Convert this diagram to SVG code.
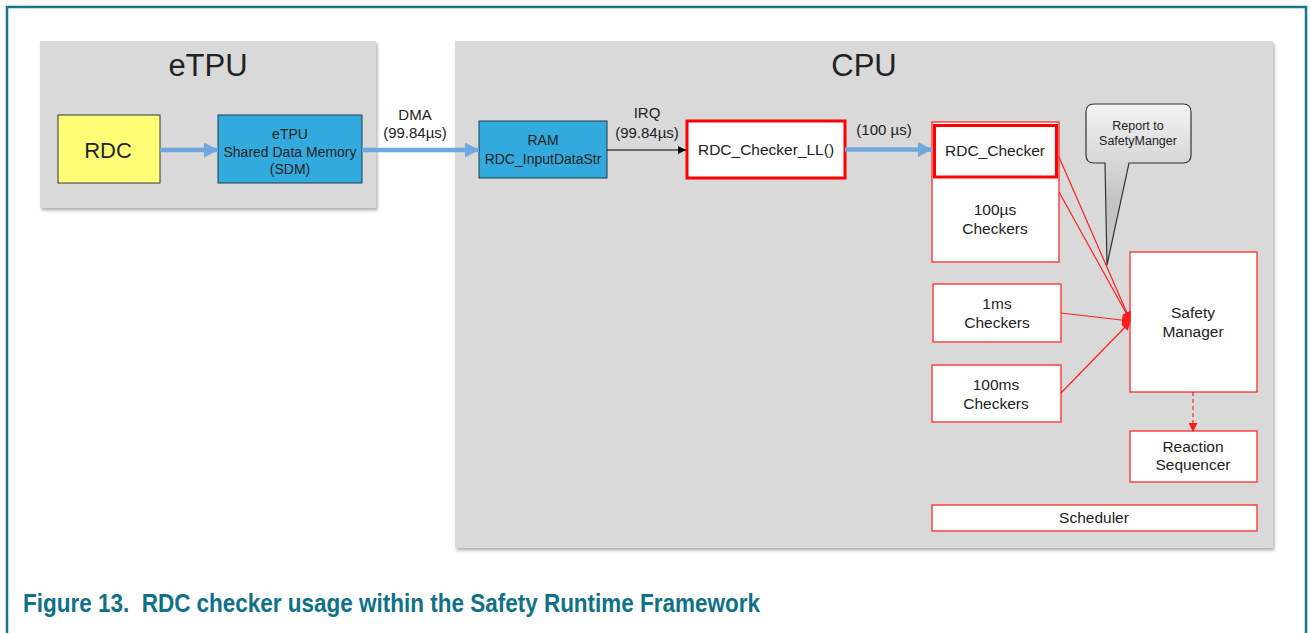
<svg xmlns="http://www.w3.org/2000/svg" width="1310" height="633" viewBox="0 0 1310 633">
<style>
text{font-family:"Liberation Sans",Arial,sans-serif;fill:#222;text-anchor:middle}
.grp{fill:#d9d9d9}
.rbox{fill:#fff;stroke:#ff2a2a;stroke-width:1.3}
.thick{fill:#fff;stroke:#ff0000;stroke-width:3}
.blue{stroke:#6fa8dc;stroke-width:4.5;fill:none}
.red{stroke:#ff2020;stroke-width:1.2;fill:none}
.t15{font-size:15.5px}
.t14{font-size:14px}
</style>
<defs>
<filter id="sh" x="-5%" y="-5%" width="110%" height="112%">
<feDropShadow dx="1.5" dy="2.5" stdDeviation="1.5" flood-color="#000" flood-opacity="0.3"/>
</filter>
<marker id="ab" viewBox="0 0 14 15" refX="14" refY="7.5" markerWidth="14" markerHeight="15" markerUnits="userSpaceOnUse" orient="auto">
<path d="M0,0 L14,7.5 L0,15 Z" fill="#6fa8dc"/>
</marker>
<marker id="ak" viewBox="0 0 8 8" refX="8" refY="4" markerWidth="8" markerHeight="8" markerUnits="userSpaceOnUse" orient="auto">
<path d="M0,0 L8,4 L0,8 Z" fill="#000"/>
</marker>
<marker id="ar" viewBox="0 0 9 9" refX="8" refY="4.5" markerWidth="9" markerHeight="9" markerUnits="userSpaceOnUse" orient="auto">
<path d="M0,0 L9,4.5 L0,9 Z" fill="#ff1a1a"/>
</marker>
<linearGradient id="cg" gradientUnits="userSpaceOnUse" x1="0" y1="104" x2="0" y2="200">
<stop offset="0" stop-color="#f4f4f4"/>
<stop offset="1" stop-color="#c4c4c4"/>
</linearGradient>
</defs>
<rect x="0" y="0" width="1310" height="633" fill="#fff"/>
<rect x="7" y="7" width="1299" height="660" fill="none" stroke="#13788a" stroke-width="2.5"/>

<g id="etpu-group">
<rect class="grp" x="40" y="41" width="336" height="167" filter="url(#sh)"/>
<text x="208" y="76" style="font-size:31px">eTPU</text>
</g>
<g id="cpu-group">
<rect class="grp" x="455" y="41" width="818" height="507" filter="url(#sh)"/>
<text x="864" y="76" style="font-size:31px">CPU</text>
</g>

<g id="rdc">
<rect x="58" y="115" width="102" height="68" fill="#ffff77" stroke="#333" stroke-width="1"/>
<text x="108" y="158" style="font-size:22px">RDC</text>
</g>
<g id="sdm">
<rect x="218" y="115" width="144" height="68" fill="#33aadd" stroke="#1f3f55" stroke-width="1"/>
<text class="t14" x="290" y="139">eTPU</text>
<text class="t14" x="290" y="157">Shared Data Memory</text>
<text class="t14" x="290" y="174">(SDM)</text>
</g>
<g id="ram">
<rect x="479" y="121" width="128" height="57" fill="#33aadd" stroke="#1f3f55" stroke-width="1"/>
<text class="t14" x="543" y="145">RAM</text>
<text class="t14" x="543" y="164">RDC_InputDataStr</text>
</g>
<g id="rdc-checker-ll">
<rect class="thick" x="687" y="121" width="158" height="57"/>
<text x="766" y="155" style="font-size:15.5px">RDC_Checker_LL()</text>
</g>
<g id="checkers-100us">
<rect class="rbox" x="932" y="122" width="127" height="140"/>
<rect class="thick" x="934.5" y="125.5" width="122" height="51.5"/>
<text class="t15" x="995" y="156">RDC_Checker</text>
<text class="t15" x="995" y="215">100µs</text>
<text class="t15" x="995" y="234">Checkers</text>
</g>
<g id="checkers-1ms">
<rect class="rbox" x="933" y="284" width="128" height="58"/>
<text class="t15" x="997" y="309">1ms</text>
<text class="t15" x="997" y="328">Checkers</text>
</g>
<g id="checkers-100ms">
<rect class="rbox" x="932" y="365" width="129" height="57"/>
<text class="t15" x="996" y="390">100ms</text>
<text class="t15" x="996" y="409">Checkers</text>
</g>
<g id="safety-manager">
<rect class="rbox" x="1130" y="252" width="127" height="140"/>
<text class="t15" x="1193" y="318">Safety</text>
<text class="t15" x="1193" y="337">Manager</text>
</g>
<g id="reaction-sequencer">
<rect class="rbox" x="1130" y="431" width="127" height="51"/>
<text class="t15" x="1193" y="452">Reaction</text>
<text class="t15" x="1193" y="470">Sequencer</text>
</g>
<g id="scheduler">
<rect class="rbox" x="932" y="505" width="325" height="26"/>
<text class="t15" x="1094" y="523">Scheduler</text>
</g>
<g id="callout">
<path d="M1094,104 H1183 Q1191,104 1191,112 V155 Q1191,163 1183,163 H1129 L1107,265 L1105,163 H1094 Q1086,163 1086,155 V112 Q1086,104 1094,104 Z" fill="url(#cg)" stroke="#333" stroke-width="1.2"/>
<text x="1138" y="130" style="font-size:12.5px">Report to</text>
<text x="1138" y="145" style="font-size:12.5px">SafetyManger</text>
</g>

<g id="connectors">
<line class="blue" x1="160" y1="150" x2="218" y2="150" marker-end="url(#ab)"/>
<line class="blue" x1="362" y1="150" x2="479" y2="150" marker-end="url(#ab)"/>
<line class="blue" x1="845" y1="149.5" x2="932" y2="149.5" marker-end="url(#ab)"/>
<line x1="607" y1="150" x2="686" y2="150" stroke="#000" stroke-width="1" marker-end="url(#ak)"/>
<line class="red" x1="1059" y1="157" x2="1130" y2="320" marker-end="url(#ar)"/>
<line class="red" x1="1059" y1="192" x2="1130" y2="320" marker-end="url(#ar)"/>
<line class="red" x1="1061" y1="313" x2="1130" y2="321" marker-end="url(#ar)"/>
<line class="red" x1="1061" y1="393" x2="1130" y2="322" marker-end="url(#ar)"/>
<line class="red" x1="1193" y1="392" x2="1193" y2="431" stroke-dasharray="4,3" marker-end="url(#ar)"/>
<text x="415" y="120" style="font-size:15px">DMA</text>
<text x="415" y="138" style="font-size:15px">(99.84µs)</text>
<text x="647" y="118" style="font-size:15px">IRQ</text>
<text x="647" y="138" style="font-size:15px">(99.84µs)</text>
<text x="884" y="135" style="font-size:15px">(100 µs)</text>
</g>

<text x="23" y="612" xml:space="preserve" textLength="737" lengthAdjust="spacingAndGlyphs" style="font-size:25px;text-anchor:start;fill:#0e7189;font-weight:bold">Figure 13.  RDC checker usage within the Safety Runtime Framework</text>
</svg>
